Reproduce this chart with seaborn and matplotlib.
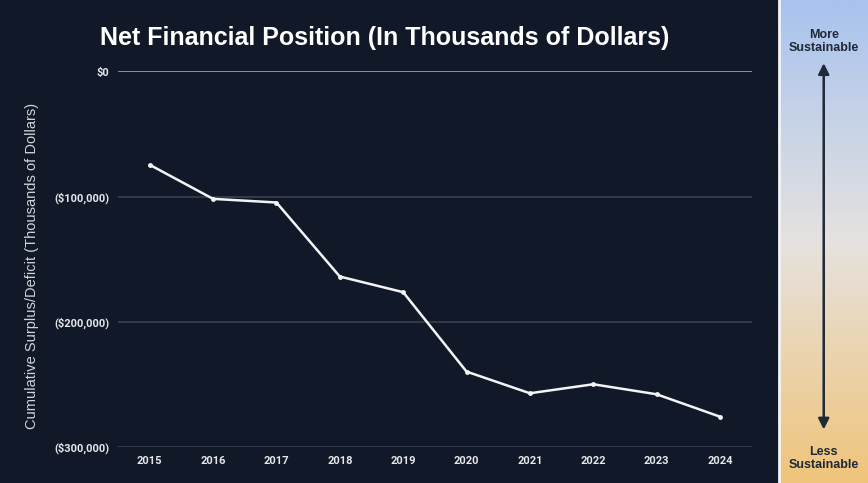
import numpy as np
import pandas as pd
import matplotlib
matplotlib.use("Agg")
import matplotlib.pyplot as plt
import seaborn as sns
from matplotlib.colors import LinearSegmentedColormap

years = [2015, 2016, 2017, 2018, 2019, 2020, 2021, 2022, 2023, 2024]
net_position = [-74500, -101700, -104600, -163700, -176200,
                -239600, -256900, -249700, -257700, -275600]
y_ticks = [0, -100000, -200000, -300000]
y_tick_labels = ["$0", "($100,000)", "($200,000)", "($300,000)"]

BG = "#111827"

sns.set_theme(style="dark")
plt.rcParams["font.family"] = ["Roboto", "DejaVu Sans"]

df = pd.DataFrame({"year": years, "value": net_position})

fig = plt.figure(figsize=(8.68, 4.83), dpi=100, facecolor=BG)
ax = fig.add_axes([0.136, 0.074, 0.730, 0.778], facecolor=BG)

sns.lineplot(data=df, x="year", y="value", ax=ax, color="#f3f4f6",
             linewidth=1.8, marker="o", markersize=3.5,
             markeredgewidth=0)

ax.set_xlim(2014.5, 2024.5)
ax.set_ylim(-300000, 0)
ax.set_yticks(y_ticks)
ax.set_yticklabels(y_tick_labels)
ax.set_xticks(years)
ax.set_xticklabels([str(y) for y in years])
for t in y_ticks:
    ax.axhline(t, color="#9ca3af" if t == 0 else "#374151",
               linewidth=1.2, zorder=0)
ax.grid(False)
for s in ax.spines.values():
    s.set_visible(False)
ax.tick_params(axis="both", length=0, colors="#e5e7eb", labelsize=8)
ax.tick_params(axis="y", pad=6)
ax.tick_params(axis="x", pad=6)
for lbl in ax.get_xticklabels() + ax.get_yticklabels():
    lbl.set_fontweight("bold")
ax.set_xlabel("")
ax.set_ylabel("Cumulative Surplus/Deficit (Thousands of Dollars)",
              color="#d1d5db", fontsize=10.5, family="Liberation Sans")
ax.yaxis.set_label_coords(-0.125, 0.482)

fig.text(0.443, 0.921, "Net Financial Position (In Thousands of Dollars)",
         color="white", fontsize=18, fontweight="bold",
         family="Liberation Sans", ha="center", va="center")

# sustainability panel on the right
pax = fig.add_axes([0.898, 0.0, 0.102, 1.0])
cmap = LinearSegmentedColormap.from_list(
    "sust", ["#a8c3ef", "#e6e2df", "#f0c47a"])
grad = np.linspace(0, 1, 256).reshape(-1, 1)
pax.imshow(grad, aspect="auto", cmap=cmap, extent=[0, 1, 0, 1],
           origin="upper")
pax.set_xlim(0, 1)
pax.set_ylim(0, 1)
pax.axis("off")
fig.add_artist(plt.Line2D([0.8975, 0.8975], [0, 1], color="#f3f4f6",
                          linewidth=2, transform=fig.transFigure))
pax.annotate("", xy=(0.5, 0.875), xytext=(0.5, 0.105),
             arrowprops=dict(arrowstyle="<|-|>", color="#1f2937",
                             linewidth=1.8, mutation_scale=16))
pax.text(0.5, 0.915, "More\nSustainable", ha="center", va="center",
         fontsize=9, fontweight="bold", color="#1f2937",
         family="Liberation Sans", linespacing=1.1)
pax.text(0.5, 0.05, "Less\nSustainable", ha="center", va="center",
         fontsize=9, fontweight="bold", color="#1f2937",
         family="Liberation Sans", linespacing=1.1)

fig.savefig("out.png", dpi=100, facecolor=BG)
